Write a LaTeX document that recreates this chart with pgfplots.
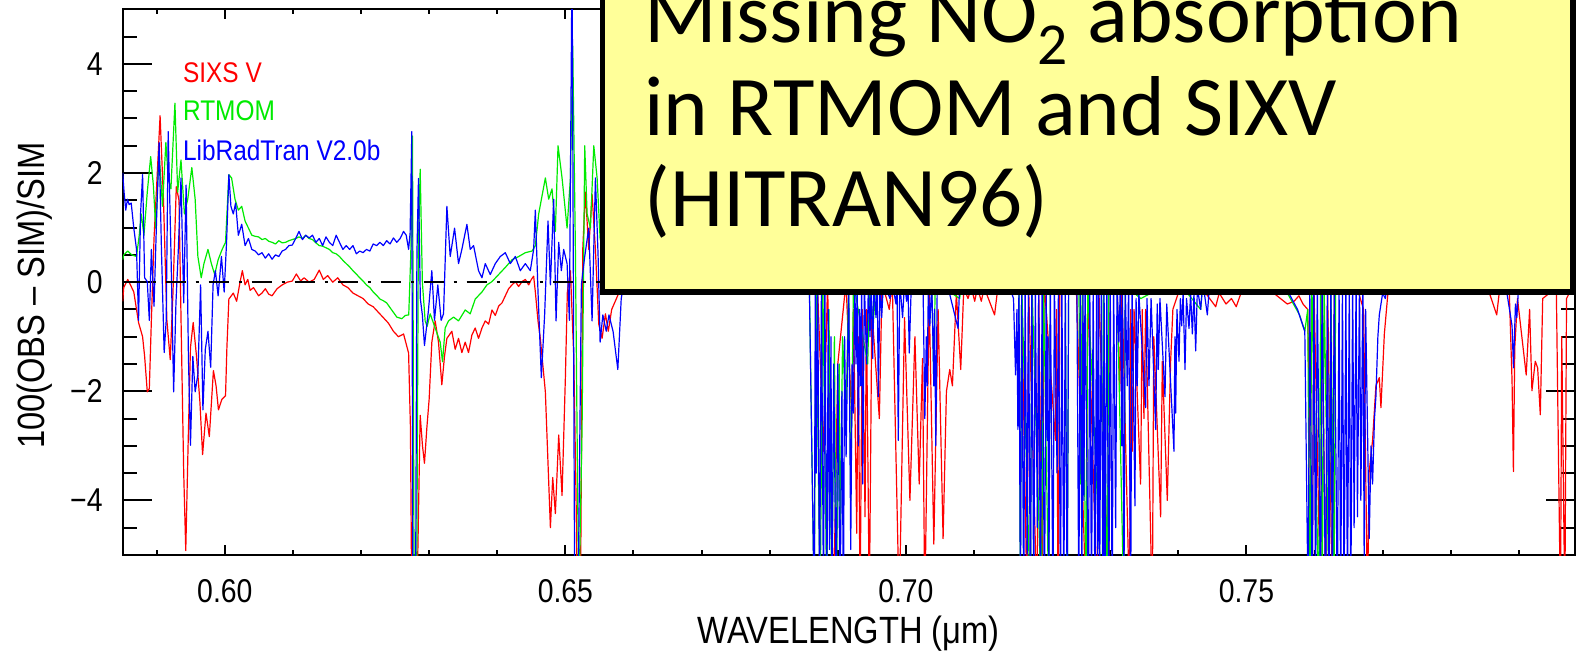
\documentclass[border=0pt]{standalone}
\usepackage{fontspec}
\setmainfont{Liberation Sans}[FakeStretch=0.86]
\newfontfamily\calibri{Carlito}
\usepackage{pgfplots}
\pgfplotsset{compat=1.18}
\definecolor{boxyellow}{RGB}{255,255,153}
\definecolor{sixred}{RGB}{255,0,0}
\definecolor{rtgreen}{RGB}{0,235,0}
\definecolor{lrblue}{RGB}{0,0,255}
\begin{document}
\begin{tikzpicture}
\begin{axis}[
 at={(0pt,0pt)}, anchor=south west,
 scale only axis, width=726pt, height=272.85pt,
 xmin=0.585, xmax=0.7982, ymin=-5, ymax=5,
 xtick={0.60,0.65,0.70,0.75}, xticklabels={0.60,0.65,0.70,0.75},
 minor xtick={0.59,0.61,0.62,0.63,0.64,0.66,0.67,0.68,0.69,0.71,0.72,0.73,0.74,0.76,0.77,0.78,0.79},
 ytick={-4,-2,0,2,4}, yticklabels={−4,−2,0,2,4},
 minor ytick={-4.5,-3.5,-3,-2.5,-1.5,-1,-0.5,0.5,1,1.5,2.5,3,3.5,4.5},
 tick align=inside,
 xtick style={/pgfplots/major tick length=5pt,/pgfplots/minor tick length=2.5pt},
 ytick style={/pgfplots/major tick length=14.5pt,/pgfplots/minor tick length=7pt},
 tick style={black, line width=1pt},
 axis line style={line width=1pt},
 tick label style={font=\fontsize{16.5}{18}\selectfont},
 xticklabel style={anchor=base, yshift=-23.5pt},
 yticklabel style={anchor=east, inner sep=0pt, xshift=-9.85pt},
 xlabel={WAVELENGTH (μm)}, ylabel={100(OBS – SIM)/SIM},
 label style={font=\fontsize{19}{22}\selectfont},
 xlabel style={at={(axis description cs:0.5,-0.1618)}, anchor=base},
 ylabel style={at={(axis description cs:-0.05351,0.4755)}, anchor=base},
 every axis plot/.append style={line width=0.6pt, line join=round},
]
% SIXS V
\addplot[sixred] coordinates {
(0.585,-0.35) (0.58515,-0.1) (0.58574,0.05) (0.58614,-0.05) (0.58663,-0.18) (0.58733,-0.74) (0.58792,-1.0) (0.58822,-1.36) (0.58861,-2.01) (0.58891,-1.95) (0.58921,-0.7) (0.5896,0.8) (0.59,1.8) (0.59049,3.05) (0.59099,1.5) (0.59149,-0.7) (0.59198,-1.42) (0.59238,-0.2) (0.59287,1.75) (0.59327,1.5) (0.59361,-1.0) (0.59396,-3.5) (0.59426,-4.92) (0.5946,-3.0) (0.59495,-1.2) (0.59535,-0.74) (0.59584,-1.36) (0.59634,-2.2) (0.59673,-3.16) (0.59723,-2.4) (0.59772,-2.83) (0.59832,-1.62) (0.59871,-1.9) (0.59906,-2.34) (0.59955,-2.15) (0.6001,-2.08) (0.6003,-1.2) (0.60059,-0.31) (0.60124,-0.2) (0.60173,-0.35) (0.60223,0.0) (0.60257,0.21) (0.60297,-0.05) (0.60337,0.05) (0.60371,-0.15) (0.60421,-0.1) (0.60495,-0.25) (0.60545,-0.2) (0.60594,-0.12) (0.60644,-0.22) (0.60693,-0.25) (0.60767,-0.12) (0.60842,-0.05) (0.60916,0.0) (0.6099,0.02) (0.6105,0.15) (0.61114,0.02) (0.61163,0.08) (0.61238,0.0) (0.61312,0.05) (0.61386,0.22) (0.61446,0.05) (0.6151,0.12) (0.61584,0.0) (0.61658,0.08) (0.61733,-0.05) (0.61807,-0.1) (0.61881,-0.2) (0.61955,-0.25) (0.6203,-0.3) (0.62104,-0.4) (0.62178,-0.45) (0.62252,-0.55) (0.62327,-0.65) (0.62401,-0.75) (0.62475,-0.9) (0.62549,-1.0) (0.62624,-0.95) (0.62698,-1.3) (0.62725,-2.67) (0.62745,-6) (0.62819,-6) (0.62868,-2.44) (0.62902,-3.0) (0.62931,-3.32) (0.62966,-2.67) (0.63,-2.14) (0.63039,-1.1) (0.63088,-0.71) (0.63137,-1.1) (0.63186,-1.88) (0.63225,-1.36) (0.6326,-1.03) (0.63294,-0.97) (0.63333,-0.9) (0.63382,-1.23) (0.63431,-1.03) (0.6348,-1.29) (0.63529,-1.1) (0.63578,-1.29) (0.63627,-0.97) (0.63676,-0.84) (0.63725,-1.03) (0.63775,-0.84) (0.63824,-0.71) (0.63873,-0.77) (0.63922,-0.51) (0.63971,-0.61) (0.6402,-0.44) (0.64069,-0.38) (0.64118,-0.25) (0.64167,-0.12) (0.64216,-0.05) (0.64265,0.01) (0.64314,-0.08) (0.64363,0.01) (0.64412,0.05) (0.64461,-0.05) (0.645,0.05) (0.64534,0.11) (0.64559,-0.18) (0.64598,-0.71) (0.64632,-1.03) (0.64667,-1.49) (0.64706,-2.01) (0.64745,-3.32) (0.6478,-4.5) (0.64814,-3.58) (0.64853,-4.24) (0.64902,-2.8) (0.64951,-3.91) (0.65,-1.75) (0.65029,-0.18) (0.65074,0.21) (0.65123,-1.36) (0.65157,-3.97) (0.65176,-6) (0.65221,-6) (0.65255,0.6) (0.65294,1.65) (0.65343,0.6) (0.65392,1.61) (0.65441,0.6) (0.6549,-0.77) (0.65539,-1.03) (0.65588,-0.58) (0.6563,-0.9) (0.6568,-0.5) (0.6575,-0.3) (0.6585,0.0) (0.662,0.1) (0.667,0.0) (0.672,0.15) (0.677,0.05) (0.682,0.1) (0.6858,0.0)
(0.6870,0.0) (0.6879,-3.1) (0.6885,0.0) (0.68937,-6) (0.6900,-1.5) (0.6912,0.0) (0.69205,-2.5) (0.6923,-0.5) (0.69278,-4.6) (0.6930,-1.0) (0.69327,-6) (0.6936,-0.5) (0.694,-4.3) (0.6942,-0.5) (0.69463,-6) (0.6950,-0.5) (0.6961,-2.5) (0.6965,0.0) (0.69756,-0.5) (0.6980,0.0) (0.69902,-6) (0.6998,-0.65) (0.70059,-4.0) (0.70132,-1.0) (0.70195,-3.7) (0.70244,-1.4) (0.70278,-6) (0.70341,-0.2) (0.7041,-4.8) (0.70473,-0.5) (0.70546,-4.7) (0.70595,-2.0) (0.70644,-1.6) (0.70683,-1.9) (0.70741,-0.2) (0.70805,-1.6) (0.7085,-0.1) (0.70912,-0.3) (0.7096,-0.1) (0.7101,-0.35) (0.7105,-0.1) (0.71107,-0.35) (0.7115,-0.1) (0.71302,-0.6) (0.7135,-0.1)
(0.7150,-0.1) (0.7170,-0.2) (0.71779,-6) (0.7180,0.0) (0.71926,-6) (0.7195,0.0) (0.72,-6) (0.7203,0.0) (0.72196,-2.9) (0.7221,-0.5) (0.72235,-6) (0.7226,0.0) (0.7250,0.0) (0.72647,-6) (0.7267,0.0) (0.72809,-6) (0.7283,0.0) (0.7298,-6) (0.7300,0.0) (0.7310,0.0) (0.7314,-2.0) (0.7317,0.0) (0.73284,-6) (0.7330,-0.5) (0.73324,-3.1) (0.7335,-0.5) (0.73446,-3.7) (0.7347,-0.5) (0.73495,-2.5) (0.7352,-0.5) (0.73618,-6) (0.7364,-1.0) (0.7374,-4.3) (0.73765,-1.45) (0.73838,-4.0) (0.73887,-1.45) (0.7392,-0.5) (0.7400,-0.2) (0.7420,-0.15) (0.7440,-0.2) (0.74549,-0.45) (0.7460,-0.2) (0.7470,-0.4) (0.7478,-0.3) (0.7485,-0.45) (0.7492,-0.2) (0.7500,-0.05) (0.7520,0.0)
(0.7540,-0.2) (0.7550,-0.3) (0.7560,-0.4) (0.7570,-0.35) (0.7577,-0.25) (0.7583,-0.4) (0.7590,-0.5) (0.75966,-6) (0.7599,0.0) (0.76089,-6) (0.7611,0.0) (0.76163,-6) (0.7619,0.0) (0.76261,-6) (0.7629,0.0) (0.7660,0.0) (0.7672,-0.5) (0.76778,-6) (0.7680,-3.5) (0.76852,-2.9) (0.76901,-1.9) (0.76951,-1.75) (0.76975,-2.3) (0.77025,-0.95) (0.77074,-0.25) (0.7712,0.0) (0.7750,0.1) (0.7800,0.0) (0.7850,0.05) (0.78675,-0.6) (0.7872,-0.1) (0.7886,-0.2) (0.7890,-1.8) (0.7892,-3.47) (0.7894,-1.2) (0.7898,-0.3) (0.79108,-1.7) (0.79158,-0.5) (0.79192,-1.99) (0.79241,-1.45) (0.79276,-1.57) (0.79315,-2.43) (0.7935,-0.3) (0.7955,-0.1) (0.79611,-6) (0.7963,-1.0) (0.79675,-6) (0.7970,-0.3) (0.7982,0.0)
};
% RTMOM
\addplot[rtgreen] coordinates {
(0.585,0.41) (0.58515,0.5) (0.58574,0.57) (0.58634,0.5) (0.58703,0.47) (0.58743,0.86) (0.58772,1.25) (0.58812,0.86) (0.58861,1.65) (0.58911,2.3) (0.5895,1.78) (0.58985,0.99) (0.59035,2.37) (0.59084,1.39) (0.59134,2.56) (0.59168,1.91) (0.59208,1.71) (0.59267,3.28) (0.59307,1.65) (0.59356,2.24) (0.59406,1.25) (0.59455,1.52) (0.59515,2.1) (0.59564,1.52) (0.59604,0.47) (0.59653,0.08) (0.59693,0.34) (0.59752,0.6) (0.59802,0.34) (0.59851,0.14) (0.59901,0.41) (0.5996,0.6) (0.6001,0.73) (0.60059,1.97) (0.60099,1.91) (0.60149,1.52) (0.60198,1.32) (0.60248,1.39) (0.60297,1.12) (0.60347,0.99) (0.60396,0.86) (0.60445,0.84) (0.60495,0.83) (0.60545,0.78) (0.60594,0.8) (0.60644,0.75) (0.60693,0.73) (0.60743,0.7) (0.60792,0.76) (0.60842,0.72) (0.60891,0.73) (0.6094,0.76) (0.6099,0.78) (0.6104,0.8) (0.61089,0.83) (0.61139,0.8) (0.61188,0.86) (0.61237,0.8) (0.61287,0.78) (0.61337,0.72) (0.61386,0.67) (0.61435,0.66) (0.61485,0.63) (0.61535,0.6) (0.61584,0.54) (0.61634,0.52) (0.61683,0.47) (0.61733,0.4) (0.61782,0.34) (0.61832,0.28) (0.61881,0.21) (0.6193,0.15) (0.6198,0.08) (0.6203,0.02) (0.62079,-0.05) (0.62129,-0.1) (0.62178,-0.18) (0.62228,-0.24) (0.62277,-0.31) (0.62327,-0.34) (0.62376,-0.38) (0.6245,-0.51) (0.62525,-0.64) (0.62599,-0.67) (0.62649,-0.61) (0.6270,-0.6) (0.6273,0.5) (0.62755,2.68) (0.6278,-6) (0.62815,-6) (0.6284,0.5) (0.62868,2.07) (0.629,0.0) (0.62941,-0.71) (0.6297,-0.81) (0.63015,-0.58) (0.63088,-0.84) (0.63162,-1.1) (0.63196,-1.46) (0.63235,-0.84) (0.63284,-0.71) (0.63358,-0.64) (0.63431,-0.71) (0.63529,-0.51) (0.63603,-0.58) (0.63676,-0.31) (0.63775,-0.18) (0.63848,-0.05) (0.63922,0.01) (0.6402,0.14) (0.64118,0.27) (0.64216,0.41) (0.64314,0.47) (0.64412,0.54) (0.6451,0.57) (0.64559,0.67) (0.64608,1.25) (0.64706,1.91) (0.64755,1.52) (0.64804,1.71) (0.64853,0.93) (0.64892,2.5) (0.64951,1.91) (0.65025,0.99) (0.65074,1.91) (0.65108,4.33) (0.65147,0.6) (0.65196,-6) (0.65245,-2.68) (0.65284,2.5) (0.65319,1.25) (0.65368,0.99) (0.65417,2.5) (0.65466,1.91) (0.6551,0.8) (0.6560,0.3) (0.6570,0.0) (0.6580,0.3) (0.662,0.5) (0.667,0.6) (0.672,0.5) (0.677,0.5) (0.682,0.4) (0.6858,0.2)
(0.68654,-6) (0.6868,0.0) (0.68741,-6) (0.6878,0.0) (0.68839,-6) (0.6887,-0.5) (0.68912,-6) (0.6895,-1.0) (0.68976,-6) (0.6902,-1.5) (0.69034,-5) (0.6907,-1.0) (0.6912,-2.5) (0.6916,0.0) (0.6919,-4) (0.6923,0.0) (0.69439,-1.5) (0.6947,0.0) (0.6952,-0.8) (0.6956,0.0) (0.7000,0.2) (0.7038,0.0) (0.7041,-1.9) (0.7043,0.0) (0.7079,-0.3) (0.7082,0.1) (0.7120,0.2)
(0.7150,0.1) (0.7166,0.0) (0.71681,-6) (0.7170,0.0) (0.71828,-6) (0.7185,0.0) (0.7199,-6) (0.7202,0.0) (0.72098,-6) (0.7212,0.0) (0.7234,0.0) (0.72368,-6) (0.7239,0.0) (0.7254,0.0) (0.72564,-3.7) (0.7259,0.0) (0.72647,-6) (0.7267,0.0) (0.72882,-6) (0.7290,0.0) (0.72956,-6) (0.7298,0.0) (0.7310,0.0) (0.73201,-6) (0.7322,0.0) (0.7335,-0.2) (0.7345,-0.3) (0.7360,-0.2) (0.7400,0.0) (0.74328,-0.5) (0.7436,0.0) (0.7480,0.2) (0.7520,0.2)
(0.7540,0.0) (0.7560,-0.2) (0.7578,-0.6) (0.75857,-0.9) (0.7590,-0.5) (0.75931,-6) (0.7596,0.0) (0.76064,-6) (0.7609,0.0) (0.76113,-6) (0.7614,0.0) (0.76212,-6) (0.7624,0.0) (0.76286,-6) (0.7631,0.0) (0.7700,0.0) (0.7750,0.3) (0.7800,0.4) (0.7850,0.4) (0.7900,0.3) (0.7950,0.3) (0.7982,0.3)
};
% LibRadTran
\addplot[lrblue] coordinates {
(0.585,2.0) (0.5852,1.65) (0.58545,1.32) (0.5857,1.52) (0.58595,1.42) (0.58625,1.45) (0.58663,0.99) (0.58703,0.6) (0.58733,-0.7) (0.58762,1.25) (0.58792,1.97) (0.58822,0.08) (0.58861,0.01) (0.58891,-0.7) (0.58921,0.6) (0.5896,-0.44) (0.59,1.25) (0.59035,2.56) (0.59069,0.6) (0.59109,-1.29) (0.59139,-0.7) (0.59168,2.76) (0.59208,0.6) (0.59248,-2.01) (0.59282,-0.38) (0.59317,0.6) (0.59356,1.91) (0.59396,-0.38) (0.59431,1.78) (0.59465,-1.36) (0.59495,-2.99) (0.5953,-1.36) (0.59564,-2.01) (0.59604,-1.69) (0.59644,-0.05) (0.59678,-2.34) (0.59713,-1.23) (0.59752,-0.9) (0.59792,-1.56) (0.59827,-0.05) (0.59861,0.21) (0.59901,-0.25) (0.5995,0.47) (0.5999,-0.18) (0.60025,0.73) (0.60059,1.97) (0.60089,1.39) (0.60124,1.25) (0.60158,1.45) (0.60198,0.86) (0.60248,1.06) (0.60297,0.67) (0.60347,0.8) (0.60396,0.6) (0.60446,0.57) (0.60495,0.5) (0.60545,0.54) (0.60594,0.44) (0.60644,0.52) (0.60693,0.42) (0.60743,0.5) (0.60792,0.47) (0.60842,0.57) (0.60891,0.6) (0.60941,0.67) (0.6099,0.68) (0.6104,0.8) (0.61089,0.93) (0.61139,0.78) (0.61188,0.86) (0.61238,0.81) (0.61287,0.86) (0.61337,0.73) (0.61386,0.8) (0.61436,0.67) (0.61485,0.83) (0.61535,0.73) (0.61584,0.67) (0.61634,0.86) (0.61683,0.73) (0.61733,0.6) (0.61782,0.67) (0.61832,0.6) (0.61881,0.67) (0.61931,0.52) (0.6198,0.57) (0.6203,0.54) (0.62079,0.6) (0.62129,0.57) (0.62178,0.7) (0.62228,0.67) (0.62277,0.73) (0.62327,0.67) (0.62376,0.76) (0.62426,0.7) (0.62475,0.81) (0.62525,0.73) (0.62574,0.8) (0.62624,0.93) (0.62663,0.86) (0.62698,0.6) (0.6272,0.9) (0.62745,2.76) (0.6276,-6) (0.6280,-6) (0.6282,0.5) (0.62843,1.9) (0.6287,-0.3) (0.629,-0.6) (0.62931,-1.16) (0.6299,-0.51) (0.63039,0.21) (0.63078,-0.7) (0.63127,-0.05) (0.63176,-0.7) (0.63211,-0.58) (0.6326,1.39) (0.63309,0.47) (0.63373,0.99) (0.63431,0.34) (0.6348,0.6) (0.63554,1.06) (0.63603,0.6) (0.63652,0.67) (0.63725,0.21) (0.63775,0.08) (0.63824,0.34) (0.63897,0.14) (0.63971,0.34) (0.64044,0.47) (0.64118,0.54) (0.64191,0.34) (0.64265,0.47) (0.64338,0.21) (0.64412,0.34) (0.64485,0.21) (0.64534,0.6) (0.64559,1.32) (0.64598,-0.18) (0.64647,-1.75) (0.64696,-0.58) (0.64745,1.12) (0.6478,-0.05) (0.64828,1.52) (0.64863,-0.71) (0.64902,0.73) (0.64941,0.21) (0.64975,0.6) (0.65025,0.34) (0.65059,-0.7) (0.65098,6) (0.65137,-6) (0.65186,-6) (0.65235,-0.05) (0.65284,0.47) (0.65343,0.99) (0.65392,-0.71) (0.65441,1.91) (0.6548,0.5) (0.6551,-1.1) (0.6555,-0.6) (0.656,-0.9) (0.6564,-0.6) (0.657,-0.9) (0.6577,-1.6) (0.6582,-0.3) (0.659,0.3) (0.662,0.6) (0.667,0.5) (0.672,0.6) (0.677,0.5) (0.682,0.4) (0.6858,0.1)
(0.68654,-6) (0.6867,0.0) (0.68683,-3.5) (0.68705,0.0) (0.68732,-6) (0.6876,0.0) (0.6879,-6) (0.6881,0.0) (0.68839,-6) (0.6886,-0.5) (0.68878,-4.9) (0.6890,-1.0) (0.68912,-6) (0.6894,-1.5) (0.68976,-6) (0.6900,-1.5) (0.69034,-6) (0.6906,-2.0) (0.69083,-6) (0.6910,-1.0) (0.69122,-3.2) (0.6916,0.0) (0.6919,-4.9) (0.6921,-1.5) (0.69229,-2.4) (0.6925,0.0) (0.69268,-1.5) (0.69285,0.0) (0.69302,-3.0) (0.6932,-0.5) (0.69337,-1.9) (0.6935,0.0) (0.69366,-3.7) (0.6939,0.0) (0.69424,-1.5) (0.6945,0.0) (0.69473,-1.0) (0.6949,0.0) (0.69512,-1.4) (0.6953,0.0) (0.69561,-0.65) (0.6958,0.0) (0.69595,-2.1) (0.6962,0.0) (0.69644,-0.65) (0.6967,0.0) (0.69766,-0.3) (0.6980,0.0) (0.69854,-0.4) (0.6987,0.0) (0.69888,-2.9) (0.6991,0.0) (0.69951,-0.65) (0.6998,0.0) (0.7001,-0.35) (0.7003,0.0) (0.70049,-1.3) (0.7008,0.0) (0.7025,0.1) (0.70278,-2.5) (0.7030,-1.0) (0.70312,-1.9) (0.7033,0.0) (0.70351,-0.8) (0.7038,0.0) (0.7041,-1.9) (0.7042,-0.5) (0.70439,-3.0) (0.7046,0.0) (0.7060,0.0) (0.70766,-0.85) (0.7079,0.0) (0.7100,0.1) (0.7130,0.2)
(0.7150,0.0) (0.7158,-0.3) (0.7161,-1.7) (0.7163,-0.5) (0.71644,-2.7) (0.7166,0.0) (0.71681,-6) (0.7170,0.0) (0.7173,-6) (0.7175,0.0) (0.7178,-5) (0.7180,0.0) (0.71828,-6) (0.7185,0.0) (0.71877,-6) (0.7190,0.0) (0.7193,-4.5) (0.7195,0.0) (0.71975,-6) (0.7200,0.0) (0.72035,-6) (0.7206,0.0) (0.72074,-2.9) (0.72085,-1.0) (0.72098,-6) (0.7212,0.0) (0.7216,-6) (0.7218,0.0) (0.7222,-3.5) (0.7224,0.0) (0.7227,-6) (0.7229,0.0) (0.72319,-6) (0.7234,0.0) (0.72368,-6) (0.7239,0.0) (0.7251,0.0) (0.72539,-6) (0.7256,0.0) (0.72585,-5.5) (0.7260,0.0) (0.72613,-4.0) (0.7263,0.0) (0.7268,-6) (0.7270,0.0) (0.72725,-6) (0.7275,0.0) (0.72775,-6) (0.7280,0.0) (0.72815,-5) (0.7283,0.0) (0.72843,-6) (0.7287,0.0) (0.72895,-6) (0.7291,0.0) (0.72922,-6) (0.7295,0.0) (0.7298,-6) (0.7300,0.0) (0.73029,-6) (0.7305,0.0) (0.7308,-4.5) (0.7310,0.0) (0.73127,-1.1) (0.7315,0.0) (0.7317,-3) (0.7318,0.0) (0.73201,-6) (0.7322,0.0) (0.7325,-1.9) (0.7327,0.0) (0.7330,-6) (0.7332,0.0) (0.73363,-4.1) (0.7338,-0.3) (0.73397,-1.9) (0.7342,-0.2) (0.7352,-2.3) (0.7354,-0.3) (0.73569,-1.9) (0.7360,-0.3) (0.73667,-2.7) (0.7369,-0.4) (0.73706,-1.6) (0.7373,-0.3) (0.73804,-2.1) (0.7383,-0.4) (0.73936,-3.1) (0.7395,-1.0) (0.73961,-2.4) (0.7398,-0.5) (0.7401,-1.45) (0.7403,-0.3) (0.74049,-0.8) (0.7407,-0.2) (0.74098,-1.6) (0.7412,-0.3) (0.74157,-0.85) (0.7418,-0.2) (0.74206,-0.95) (0.7423,-0.2) (0.74255,-1.26) (0.7428,-0.1) (0.74328,-0.5) (0.7436,0.0) (0.74426,-0.6) (0.7446,0.0) (0.7460,0.1) (0.7500,0.2)
(0.7540,0.0) (0.7560,-0.15) (0.7575,-0.5) (0.75857,-0.9) (0.75906,-6) (0.7593,0.0) (0.75966,-6) (0.7599,0.0) (0.76015,-6) (0.7604,0.0) (0.76089,-6) (0.7611,0.0) (0.76163,-6) (0.7619,0.0) (0.76212,-6) (0.7624,0.0) (0.76261,-6) (0.7629,0.0) (0.76335,-6) (0.7636,0.0) (0.76384,-6) (0.7641,0.0) (0.76433,-6) (0.7646,0.0) (0.76483,-6) (0.7651,0.0) (0.76532,-6) (0.7656,0.0) (0.76581,-4.5) (0.7661,0.0) (0.7663,-4.3) (0.7666,0.0) (0.7668,-4.0) (0.7671,0.0) (0.76729,-5.2) (0.7675,-0.5) (0.76803,-4.7) (0.7683,-3.0) (0.76852,-3.7) (0.7688,-2.5) (0.76901,-2.1) (0.7693,-1) (0.76951,-0.6) (0.7700,-0.2) (0.77039,-0.3) (0.7710,0.2) (0.7750,0.4) (0.7800,0.5) (0.7860,0.3) (0.7880,0.0) (0.7890,-0.8) (0.78921,-1.57) (0.7895,-0.4) (0.7897,-0.65) (0.7900,0.0) (0.7950,0.3) (0.7982,0.3)
};
\addplot[black, line width=0.8pt, dash pattern=on 10pt off 5pt on 1.5pt off 5pt] coordinates {(0.585,0) (0.7982,0)};
\end{axis}
\begin{scope}[every node/.style={anchor=west, inner sep=0pt, font=\fontsize{14.2}{16}\selectfont}]
\node[text=sixred] at (30pt,241pt) {SIXS V};
\node[text=rtgreen] at (30pt,222pt) {RTMOM};
\node[text=lrblue] at (30pt,202.5pt) {LibRadTran V2.0b};
\end{scope}
\draw[line width=2.8pt, fill=boxyellow] (239.9pt,131.65pt) rectangle (725pt,320pt);
\begin{scope}[every node/.style={anchor=base west, inner sep=0pt, font=\calibri\fontsize{42.5}{46}\selectfont}]
\node at (260.65pt,256.2pt) {Missing NO\textsubscript{2} absorption};
\node at (260.65pt,210pt) {in RTMOM and SIXV};
\node at (260.65pt,164.2pt) {(HITRAN96)};
\end{scope}
\pgfresetboundingbox
\useasboundingbox (-61.35pt,-47.5pt) rectangle (729.15pt,277.5pt);
\end{tikzpicture}
\end{document}
